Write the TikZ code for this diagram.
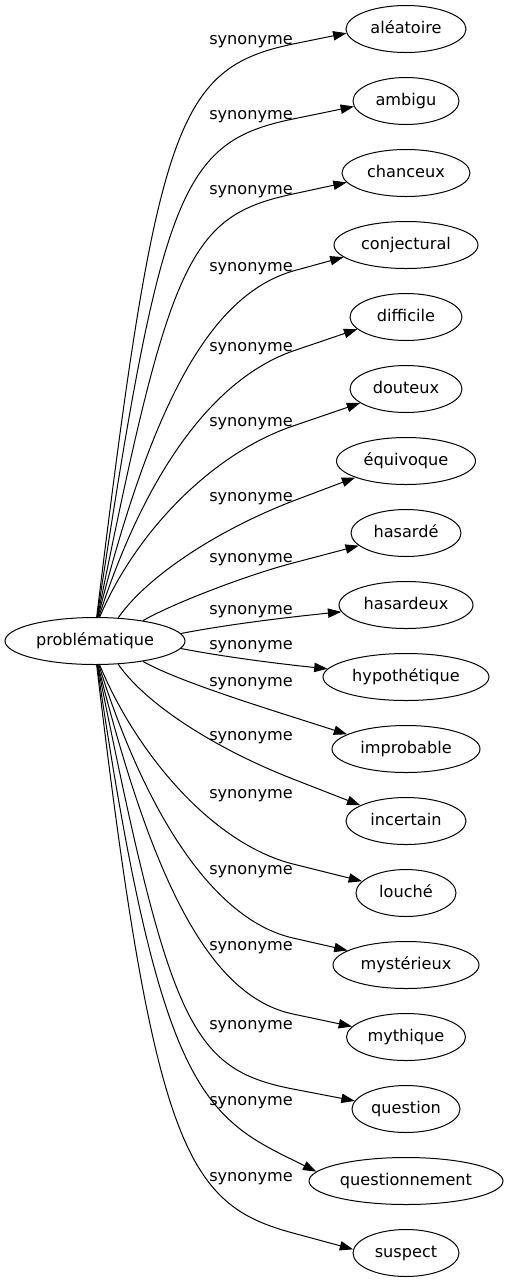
\documentclass[tikz,border=0pt]{standalone}
\usepackage{fontspec}
\setmainfont{DejaVu Sans}
\usetikzlibrary{arrows.meta,shapes.geometric}
\begin{document}
\begin{tikzpicture}[x=0.75pt,y=-0.75pt,
  every node/.style={font=\fontsize{12.1pt}{14pt}\selectfont, text height=9.7pt, text depth=2.4pt},
  nd/.style={draw, ellipse, line width=0.75pt, inner sep=0pt, minimum height=35.25pt},
  lbl/.style={inner sep=0pt},
  edge/.style={line width=0.75pt, -{Triangle[length=10pt,width=7pt]}}]
\useasboundingbox (0,0) rectangle (508,1283);
% nodes
\node[nd, minimum width=135pt] (m) at (95,641) {problématique};
\node[nd, minimum width=90pt]    (t1)  at (406,29)   {aléatoire};
\node[nd, minimum width=79.5pt]  (t2)  at (406,101)  {ambigu};
\node[nd, minimum width=96pt]    (t3)  at (406,173)  {chanceux};
\node[nd, minimum width=108pt]   (t4)  at (406,245)  {conjectural};
\node[nd, minimum width=84pt]    (t5)  at (406,317)  {difficile};
\node[nd, minimum width=84pt]    (t6)  at (406,389)  {douteux};
\node[nd, minimum width=104.25pt](t7)  at (406,461)  {équivoque};
\node[nd, minimum width=82.5pt]  (t8)  at (406,533)  {hasardé};
\node[nd, minimum width=100.5pt] (t9)  at (406,605)  {hasardeux};
\node[nd, minimum width=124.5pt] (t10) at (406,677)  {hypothétique};
\node[nd, minimum width=111pt]   (t11) at (406,749)  {improbable};
\node[nd, minimum width=90pt]    (t12) at (406,821)  {incertain};
\node[nd, minimum width=75pt]    (t13) at (406,893)  {louché};
\node[nd, minimum width=109.5pt] (t14) at (406,965)  {mystérieux};
\node[nd, minimum width=89.25pt] (t15) at (406,1037) {mythique};
\node[nd, minimum width=81pt]    (t16) at (406,1109) {question};
\node[nd, minimum width=145.5pt] (t17) at (406,1181) {questionnement};
\node[nd, minimum width=79.5pt]  (t18) at (406,1253) {suspect};
% labels
\node[lbl] (l1)  at (251,40)   {synonyme};
\node[lbl] (l2)  at (251,115)  {synonyme};
\node[lbl] (l3)  at (251,190)  {synonyme};
\node[lbl] (l4)  at (251,267)  {synonyme};
\node[lbl] (l5)  at (251,347)  {synonyme};
\node[lbl] (l6)  at (251,422)  {synonyme};
\node[lbl] (l7)  at (251,497)  {synonyme};
\node[lbl] (l8)  at (251,558)  {synonyme};
\node[lbl] (l9)  at (251,610)  {synonyme};
\node[lbl] (l10) at (251,645)  {synonyme};
\node[lbl] (l11) at (251,682)  {synonyme};
\node[lbl] (l12) at (251,736)  {synonyme};
\node[lbl] (l13) at (251,794)  {synonyme};
\node[lbl] (l14) at (251,870)  {synonyme};
\node[lbl] (l15) at (251,946)  {synonyme};
\node[lbl] (l16) at (251,1025) {synonyme};
\node[lbl] (l17) at (251,1101) {synonyme};
\node[lbl] (l18) at (251,1177) {synonyme};
% waypoints
\coordinate (w1) at (293,44);
\coordinate (w2) at (293,119);
\coordinate (w3) at (293,194);
\coordinate (w4) at (293,271);
\coordinate (w5) at (293,351);
\coordinate (w6) at (293,426);
\coordinate (w7) at (293,501);
\coordinate (w8) at (293,563);
\coordinate (w11) at (293,717);
\coordinate (w12) at (293,779);
\coordinate (w13) at (293,864);
\coordinate (w14) at (293,938);
\coordinate (w15) at (293,1014);
\coordinate (w16) at (293,1089);
\coordinate (w17) at (293,1160);
\coordinate (w18) at (293,1233);
% edges
\draw[edge] (m.86) .. controls (156.5,125.6) and (176,68.3) .. (w1) -- (t1.184);
\draw[edge] (m.85) .. controls (161.4,191.7) and (180.9,141.9) .. (w2) -- (t2.186);
\draw[edge] (m.84) .. controls (169.7,258.3) and (189.2,216) .. (w3) -- (t3.189);
\draw[edge] (m.83) .. controls (153.2,399) and (211.6,295) .. (w4) -- (t4.191);
\draw[edge] (m.81) .. controls (145.5,472.1) and (213.4,378.9) .. (w5) -- (t5.194);
\draw[edge] (m.79) .. controls (137,529.3) and (214.2,452.7) .. (w6) -- (t6.197);
\draw[edge] (m.45) .. controls (146.3,577.1) and (216.3,530.5) .. (w7) -- (t7.198);
\draw[edge] (m.23) .. controls (173.5,603) and (249.4,574.3) .. (w8) -- (t8.195);
\draw[edge] (m.5) .. controls (230,624) and (290,617) .. (t9.186);
\draw[edge] (m.355) .. controls (230,658) and (290,665) .. (t10.174);
\draw[edge] (m.337) .. controls (173.5,679) and (250.1,703.3) .. (w11) -- (t11.166);
\draw[edge] (m.315) .. controls (146.3,704.9) and (216.7,749.2) .. (w12) -- (t12.161);
\draw[edge] (m.281) .. controls (137,755) and (213.4,844) .. (w13) -- (t13.165);
\draw[edge] (m.279) .. controls (145.5,813) and (213,919.8) .. (w14) -- (t14.166);
\draw[edge] (m.277) .. controls (153.2,885) and (210.8,996.6) .. (w15) -- (t15.169);
\draw[edge] (m.276) .. controls (169.7,1023.7) and (189.9,1069) .. (w16) -- (t16.171);
\draw[edge] (m.275) .. controls (158,1080) and (200,1115) .. (w17) -- (t17.174);
\draw[edge] (m.274) .. controls (154,1150) and (186.7,1204.4) .. (w18) -- (t18.176);
\end{tikzpicture}
\end{document}
